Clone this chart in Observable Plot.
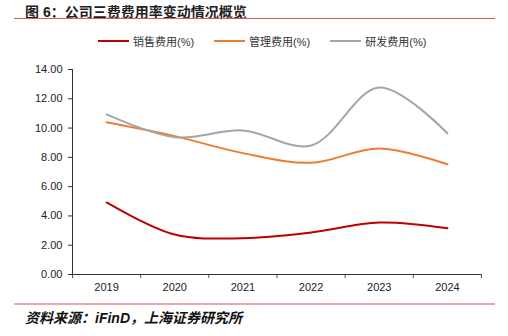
<!DOCTYPE html>
<html><head><meta charset="utf-8">
<script src="https://cdn.jsdelivr.net/npm/d3@7"></script>
<script src="https://cdn.jsdelivr.net/npm/@observablehq/plot@0.6"></script>
<style>
body{margin:0;background:#fff;width:508px;height:336px;position:relative;overflow:hidden;font-family:"Liberation Sans","Noto Sans CJK SC",sans-serif;}
#title{position:absolute;left:25px;top:1px;font-size:14px;font-weight:bold;color:#222;font-family:"Liberation Sans","Noto Sans CJK SC",sans-serif;white-space:nowrap;}
#tline{position:absolute;left:14px;width:481px;top:18px;height:1px;background:#E8585A;}
#legend{position:absolute;top:33px;left:98px;display:flex;align-items:center;font-size:11px;color:#333;white-space:nowrap;}
.item{display:flex;align-items:center;margin-right:20px;}
.sw{width:31px;height:2px;margin-right:4px;}
#chart{position:absolute;left:0;top:55px;}
#fline{position:absolute;left:14px;width:481px;top:303px;height:2px;background:#F4A4A4;}
#foot{position:absolute;left:25px;top:307px;font-size:14px;font-style:italic;font-weight:bold;color:#111;white-space:nowrap;}
</style></head>
<body>
<div id="title">图 6：公司三费费用率变动情况概览</div>
<div id="tline"></div>
<div id="legend"></div>
<div id="chart"></div>
<div id="fline"></div>
<div id="foot">资料来源：iFinD，上海证券研究所</div>
<script>
const years = ["2019","2020","2021","2022","2023","2024"];
const sales = [4.92, 2.73, 2.48, 2.87, 3.55, 3.16];
const admin = [10.40, 9.45, 8.29, 7.63, 8.61, 7.53];
const rnd = [10.93, 9.38, 9.84, 8.81, 12.77, 9.65];
const seriesNames = ["销售费用(%)","管理费用(%)","研发费用(%)"];
const seriesColors = ["#C00000","#ED7D31","#A5A5A5"];
const yTicks = [0,2,4,6,8,10,12,14];

const seriesVals = [sales, admin, rnd];
const rows = [];
seriesVals.forEach((vals, s) => vals.forEach((v, i) => rows.push({i, year: years[i], value: v, series: seriesNames[s]})));

const xDomain = [-0.5, years.length - 0.5];
const boundaries = d3.range(years.length + 1).map(k => k - 0.5);
const centers = d3.range(years.length);

const leg = document.getElementById("legend");
seriesNames.forEach((n, k) => {
  const it = document.createElement("div"); it.className = "item";
  const sw = document.createElement("div"); sw.className = "sw"; sw.style.background = seriesColors[k];
  const t = document.createElement("span"); t.textContent = n;
  it.appendChild(sw); it.appendChild(t); leg.appendChild(it);
});

const chart = Plot.plot({
  width: 508, height: 245,
  marginTop: 14, marginBottom: 26, marginLeft: 72, marginRight: 27,
  style: {fontFamily: "Liberation Sans, Arial, sans-serif", fontSize: "11px", color: "#222", background: "#fff"},
  x: {domain: xDomain, axis: null},
  y: {domain: [0, 14], axis: null},
  color: {domain: seriesNames, range: seriesColors},
  marks: [
    Plot.axisY({ticks: yTicks, tickFormat: d3.format(".2f"), tickSize: 4, tickPadding: 6, stroke: "#333", fill: "#222", label: null}),
    Plot.axisX({ticks: boundaries, tickFormat: () => "", tickSize: 4, stroke: "#555", label: null}),
    Plot.axisX({ticks: centers, tickFormat: i => years[i], tickSize: 0, tickPadding: 9, fill: "#222", label: null}),
    Plot.ruleY([0], {stroke: "#333"}),
    Plot.ruleX([xDomain[0]], {stroke: "#333"}),
    Plot.line(rows, {x: "i", y: "value", z: "series", stroke: "series", strokeWidth: 2, curve: "catmull-rom"})
  ]
});
document.getElementById("chart").appendChild(chart);
</script>
</body></html>
